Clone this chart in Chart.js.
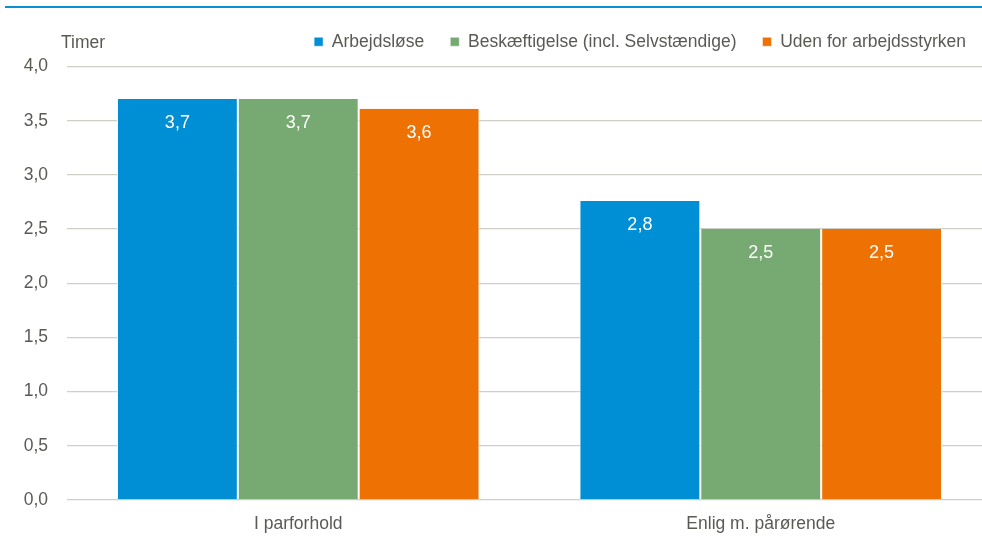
<!DOCTYPE html>
<html>
<head>
<meta charset="utf-8">
<script src="https://cdn.jsdelivr.net/npm/chart.js@4"></script>
<style>
  html, body { margin: 0; padding: 0; background: #fff; overflow: hidden; }
  #topline { position: absolute; left: 5px; top: 6px; width: 977px; height: 2px; background: #0a8fd3; }
  #wrap { position: absolute; left: 0; top: 0; width: 992px; height: 541px; }
</style>
</head>
<body>
<div id="topline"></div>
<div id="wrap"><canvas id="chart"></canvas></div>
<script>
const categories = ["I parforhold", "Enlig m. pårørende"];
const seriesNames = ["Arbejdsløse", "Beskæftigelse (incl. Selvstændige)", "Uden for arbejdsstyrken"];
const arbejdslose = [3.7, 2.76];
const beskaeftigelse = [3.7, 2.5];
const udenFor = [3.61, 2.5];
const colors = ["#008fd5", "#77aa72", "#ee7203"];
const yTitle = "Timer";

const fontFamily = "'Liberation Sans', Arial, sans-serif";
const textColor = "#5a5a55";

const fmt = v => v.toFixed(1).replace(".", ",");

// white value labels inside the bars, and the "Timer" title above the axis
const barLabels = {
  id: "barLabels",
  beforeInit(chart) {
    // a bit more room between legend and plot
    const fit = chart.legend.fit;
    chart.legend.fit = function () {
      fit.call(this);
      this.height += 6;
    };
  },
  afterDatasetsDraw(chart) {
    const ctx = chart.ctx;
    ctx.save();
    ctx.font = "18px " + fontFamily;
    ctx.fillStyle = "#ffffff";
    ctx.textAlign = "center";
    ctx.textBaseline = "middle";
    chart.data.datasets.forEach((ds, i) => {
      chart.getDatasetMeta(i).data.forEach((bar, j) => {
        ctx.fillText(fmt(ds.data[j]), bar.x, bar.y + 24);
      });
    });
    ctx.font = "17.5px " + fontFamily;
    ctx.fillStyle = textColor;
    ctx.textAlign = "left";
    ctx.fillText(yTitle, 61, 43);
    ctx.restore();
  }
};

const datasets = [arbejdslose, beskaeftigelse, udenFor].map((d, i) => ({
  label: seriesNames[i],
  data: d,
  backgroundColor: colors[i],
  borderColor: "#ffffff",
  borderWidth: { left: 1, right: 1, top: 0, bottom: 0 },
  borderSkipped: false,
  categoryPercentage: 0.784,
  barPercentage: 1.0
}));

new Chart(document.getElementById("chart"), {
  type: "bar",
  data: { labels: categories, datasets: datasets },
  plugins: [barLabels],
  options: {
    responsive: true,
    maintainAspectRatio: false,
    animation: false,
    layout: { padding: { top: 7, left: 0, right: 0, bottom: 0 } },
    plugins: {
      legend: {
        position: "top",
        align: "end",
        labels: {
          boxWidth: 9,
          boxHeight: 9,
          padding: 26,
          color: textColor,
          font: { family: fontFamily, size: 17.5 },
          useBorderRadius: false
        }
      },
      tooltip: { enabled: false }
    },
    scales: {
      x: {
        grid: { display: false },
        border: { display: false },
        ticks: { color: textColor, font: { family: fontFamily, size: 17.5 }, padding: 6 },
        afterFit: s => { s.height = 41; }
      },
      y: {
        min: 0,
        max: 4,
        ticks: {
          stepSize: 0.5,
          color: textColor,
          font: { family: fontFamily, size: 17.5 },
          padding: 19,
          callback: v => fmt(v)
        },
        grid: { color: "#cfcfc6", lineWidth: 1.3, drawTicks: false },
        border: { display: false },
        afterFit: s => { s.width = 67; }
      }
    }
  }
});
</script>
</body>
</html>
